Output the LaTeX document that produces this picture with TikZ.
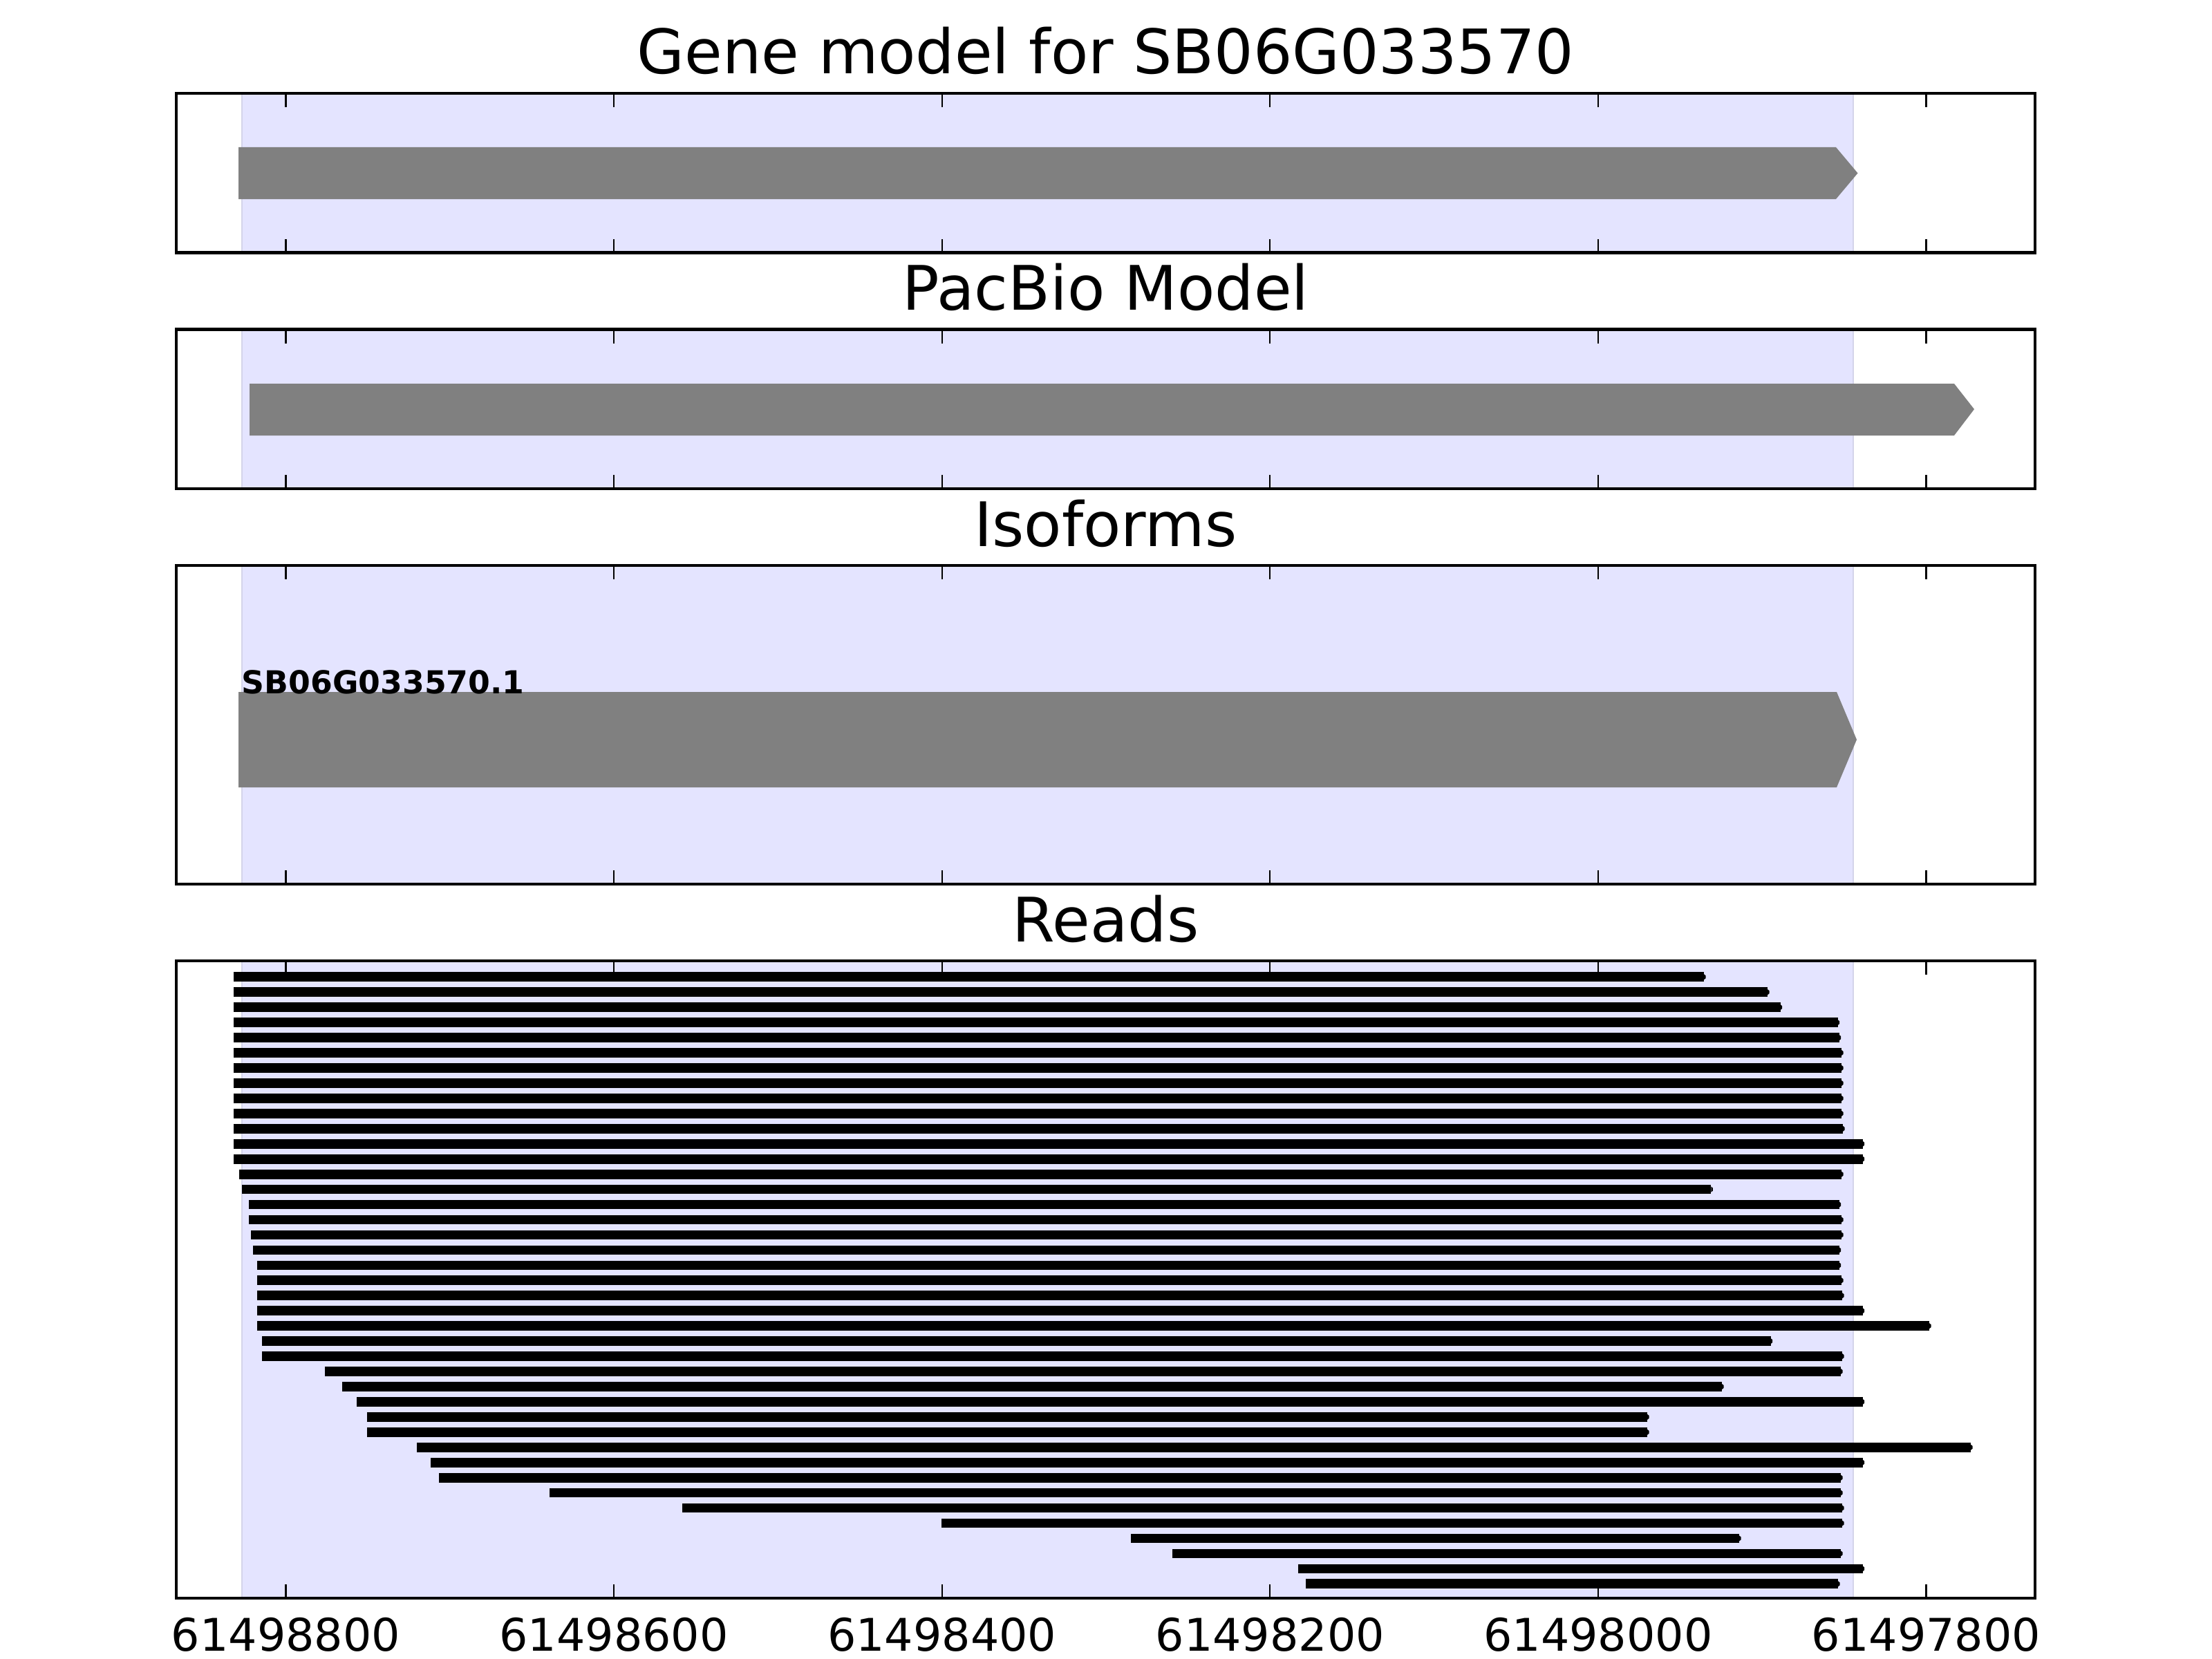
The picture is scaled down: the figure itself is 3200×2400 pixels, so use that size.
\documentclass[tikz,border=0pt]{standalone}
\usepackage{fontspec}
\setmainfont{DejaVu Sans}
\definecolor{spanfill}{RGB}{228,228,255}
\definecolor{spanedge}{RGB}{212,212,234}
\definecolor{bargray}{RGB}{128,128,128}
\begin{document}
\begin{tikzpicture}[x=0.01cm,y=-0.01cm,
  frame/.style={draw=black,line width=1.3pt},
  tickmark/.style={draw=black,line width=0.65pt},
  ptitle/.style={anchor=base,inner sep=0pt,font=\fontsize{25.25}{30}\selectfont},
  ticklabel/.style={anchor=base,inner sep=0pt,font=\fontsize{18.5}{22}\selectfont},
  genebar/.style={fill=bargray},
  readbar/.style={fill=black}]
\useasboundingbox (0,0) rectangle (3200,2400);

% panels: shading, ticks
\foreach \t/\b in {135/365.5,476.5/707,818/1279,1390/2312}{
  \fill[spanfill] (350,\t) rectangle (2681,\b);
  \draw[spanedge,line width=0.6pt] (350,\t) -- (350,\b) (2681,\t) -- (2681,\b);
  \foreach \x in {413.5,888.1,1362.7,1837.3,2311.9,2786.5}{
    \draw[tickmark] (\x,\t) -- ++(0,20);
    \draw[tickmark] (\x,\b) -- ++(0,-20);
  }
}

% gene model
\fill[genebar] (345,213) -- (2656,213) -- (2687.5,250.5) -- (2656,288) -- (345,288) -- cycle;
% PacBio model
\fill[genebar] (361,555) -- (2827,555) -- (2856,592) -- (2827,630) -- (361,630) -- cycle;
% isoform
\fill[genebar] (345,1001) -- (2657,1001) -- (2686,1070) -- (2657,1139) -- (345,1139) -- cycle;
\node[anchor=base west,inner sep=0pt,font=\bfseries\fontsize{13}{15}\selectfont] (iso) at (349,1003) {SB06G033570.1};

% reads
\foreach \i/\l/\r in {1/338/2465,2/338/2557,3/338/2575.5,4/338/2658.5,5/338/2660.7,
  6/338/2664,7/338/2664,8/338/2664,9/338/2664,10/338/2664,11/338/2666,
  12/338/2694.6,13/338/2694.6,14/346/2664,15/350/2475.4,16/360.3/2660.7,
  17/360.3/2664,18/362.5/2664,19/365.6/2660.7,20/372/2660.7,21/372/2664,
  22/372/2665,23/372/2694.6,24/372/2791,25/379/2561.6,26/379/2665,
  27/470/2663,28/495/2491,29/516/2694.6,30/531/2383,31/531/2383,
  32/602.6/2851,33/623/2694.6,34/635/2663,35/794.6/2663,36/986.5/2665,
  37/1361.8/2665,38/1636/2516,39/1696/2663,40/1878/2694.6,41/1889/2659}{
  \pgfmathsetmacro\yy{1413.3+21.95*(\i-1)}
  \fill[readbar] (\l,\yy-6.85) rectangle (\r,\yy+6.85);
  \fill[readbar] (\r,\yy-4) -- (\r+2.5,\yy-2) -- (\r+2.5,\yy+2) -- (\r,\yy+4) -- cycle;
}

% frames
\foreach \t/\b in {135/365.5,476.5/707,818/1279,1390/2312}{
  \draw[frame] (255,\t) rectangle (2944,\b);
}

% titles
\node[ptitle] (t1) at (1599.5,107) {Gene model for SB06G033570};
\node[ptitle] (t2) at (1599.5,448.5) {PacBio Model};
\node[ptitle] (t3) at (1599.5,790) {Isoforms};
\node[ptitle] (t4) at (1599.5,1362) {Reads};

% tick labels
\node[ticklabel] (x1) at (413.5,2388) {61498800};
\node[ticklabel] (x2) at (888.1,2388) {61498600};
\node[ticklabel] (x3) at (1362.7,2388) {61498400};
\node[ticklabel] (x4) at (1837.3,2388) {61498200};
\node[ticklabel] (x5) at (2311.9,2388) {61498000};
\node[ticklabel] (x6) at (2786.5,2388) {61497800};
\end{tikzpicture}
\end{document}
